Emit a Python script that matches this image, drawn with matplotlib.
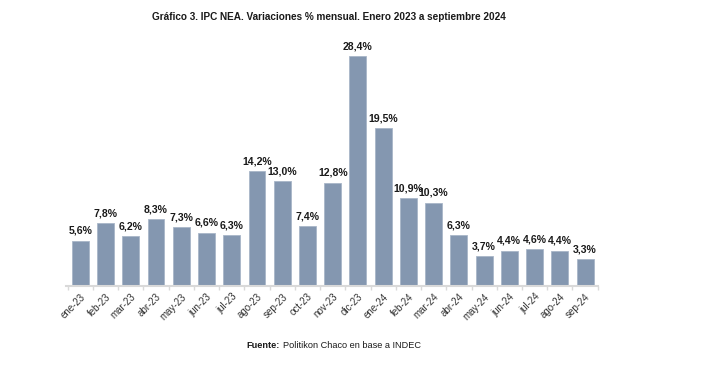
import matplotlib
matplotlib.use('Agg')
import matplotlib.pyplot as plt
import numpy as np

plt.rcParams['font.family'] = ['Liberation Sans', 'DejaVu Sans']

meses = ['ene-23', 'feb-23', 'mar-23', 'abr-23', 'may-23', 'jun-23', 'jul-23',
         'ago-23', 'sep-23', 'oct-23', 'nov-23', 'dic-23', 'ene-24', 'feb-24',
         'mar-24', 'abr-24', 'may-24', 'jun-24', 'jul-24', 'ago-24', 'sep-24']
variacion = [5.6, 7.8, 6.2, 8.3, 7.3, 6.6, 6.3, 14.2, 13.0, 7.4, 12.8, 28.4,
             19.5, 10.9, 10.3, 6.3, 3.7, 4.4, 4.6, 4.4, 3.3]

titulo = 'Gráfico 3. IPC NEA. Variaciones % mensual. Enero 2023 a septiembre 2024'

fig = plt.figure(figsize=(7.09, 3.75), dpi=100)
ax = fig.add_axes([0.093, 0.237, 0.75, 0.656])

x = np.arange(len(meses))
ax.bar(x, variacion, width=0.67, color='#8497b0', edgecolor='#a9b6c8', linewidth=0.6, zorder=2)

for xi, v in zip(x, variacion):
    ax.text(xi, v + 0.6, ('%.1f%%' % v).replace('.', ','), ha='center', va='bottom',
            fontsize=7.6, fontweight='bold', color='#1a1a1a')

ax.set_xlim(-0.57, 20.5)
ax.set_ylim(0, 30.4)

for s in ['top', 'right', 'left']:
    ax.spines[s].set_visible(False)
ax.spines['bottom'].set_color('#d9d9d9')
ax.spines['bottom'].set_linewidth(1.5)
ax.set_yticks([])

ax.set_xticks(x)
ax.set_xticklabels(meses, rotation=45, ha='right', rotation_mode='anchor',
                   fontsize=7, color='#333333')
ax.tick_params(axis='x', which='major', length=0, pad=4)
ax.set_xticks(np.arange(-0.5, len(meses), 1), minor=True)
ax.tick_params(axis='x', which='minor', length=3, color='#d9d9d9', width=1)

fig.text(0.464, 0.955, titulo, ha='center', va='center', fontsize=7.2, fontweight='bold',
         color='#1a1a1a')

t1 = fig.text(0.348, 0.08, 'Fuente:', ha='left', va='center', fontsize=6.6, fontweight='bold',
              color='#1a1a1a')
fig.canvas.draw()
bb = t1.get_window_extent()
fig.text((bb.x1 + 3) / fig.bbox.width, 0.08, 'Politikon Chaco en base a INDEC', ha='left',
         va='center', fontsize=6.6, color='#1a1a1a')

fig.savefig('out.png', dpi=100)
